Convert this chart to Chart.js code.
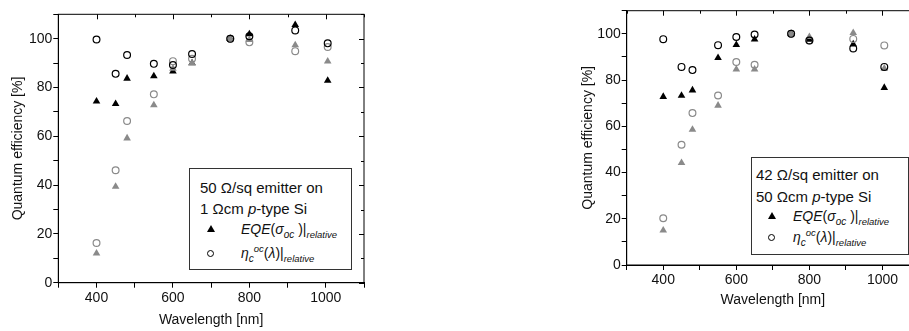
<!DOCTYPE html>
<html>
<head>
<meta charset="utf-8">
<script src="https://cdn.jsdelivr.net/npm/chart.js@4.4.1/dist/chart.umd.min.js"></script>
<style>
  body { margin: 0; width: 909px; height: 331px; overflow: hidden; position: relative; background: #fff;
         font-family: "Liberation Sans", Arial, sans-serif; color: #111; }
  canvas { position: absolute; top: 0; }
  #c1 { left: 0; }
  #c2 { left: 540px; }
  .box { position: absolute; box-sizing: border-box; border: 1px solid #333; background: #fff; }
  .ln { position: absolute; white-space: nowrap; font-size: 14px; line-height: 16px; }
  .ln.big { font-size: 15px; }
  .ln sub, .ln sup { font-size: 9.5px; font-style: italic; line-height: 0; }
  .ln sub.s { font-size: 10px; }
  .tri { position: absolute; width: 0; height: 0; border-left: 4px solid transparent; border-right: 4px solid transparent;
         border-bottom: 7px solid #000; }
  .cir { position: absolute; width: 7px; height: 7px; box-sizing: border-box; border: 1.2px solid #000; border-radius: 50%; }
</style>
</head>
<body>
<canvas id="c1" width="380" height="331"></canvas>
<canvas id="c2" width="400" height="331"></canvas>

<!-- legenda painel esquerdo -->
<div class="box" style="left:189px; top:168px; width:163px; height:102px;">
  <div class="ln big" style="left:10px; top:11px;">50 &Omega;/sq emitter on</div>
  <div class="ln big" style="left:10px; top:32px;">1 &Omega;cm <i>p</i>-type Si</div>
  <div class="tri" style="left:17px; top:56px;"></div>
  <div class="ln" style="left:51px; top:52px;"><i>EQE</i>(<i>&sigma;</i><sub class="s">oc</sub> )|<sub>relative</sub></div>
  <div class="cir" style="left:17px; top:81px;"></div>
  <div class="ln" style="left:51px; top:76px;"><i>&eta;</i><sub class="s">c</sub><sup class="s">oc</sup>(<i>&lambda;</i>)|<sub>relative</sub></div>
</div>

<!-- legenda painel direito -->
<div class="box" style="left:751px; top:157px; width:158px; height:98px;">
  <div class="ln big" style="left:4px; top:9px;">42 &Omega;/sq emitter on</div>
  <div class="ln big" style="left:4px; top:31px;">50 &Omega;cm <i>p</i>-type Si</div>
  <div class="tri" style="left:16px; top:54px;"></div>
  <div class="ln" style="left:41px; top:50px;"><i>EQE</i>(<i>&sigma;</i><sub class="s">oc</sub> )|<sub>relative</sub></div>
  <div class="cir" style="left:16px; top:76px;"></div>
  <div class="ln" style="left:41px; top:71px;"><i>&eta;</i><sub class="s">c</sub><sup class="s">oc</sup>(<i>&lambda;</i>)|<sub>relative</sub></div>
</div>

<script>
// Dados (comprimento de onda em nm, eficiencia em %)
var wavelengths = [400, 450, 480, 550, 600, 650, 750, 800, 920, 1005];

// 50 Ohm/sq emissor, 1 Ohm.cm p-type
var eqeA      = [74.3, 73.3, 83.7, 84.7, 86.6, 90.0, 100, 101.9, 105.7, 82.8];
var etaA      = [99.7, 85.6, 93.3, 89.7, 89.2, 93.7, 100, 101.0, 103.4, 98.1];
var eqeGreyA  = [12.0, 39.4, 59.2, 72.8, 87.8, 90.0, 100, 99.5, 97.4, 90.7];
var etaGreyA  = [16.3, 46.1, 66.3, 77.2, 90.8, 91.8, 100, 98.5, 94.9, 96.6];

// 42 Ohm/sq emissor, 50 Ohm.cm p-type
var eqeB      = [72.8, 73.3, 75.6, 89.6, 95.2, 97.6, 100, 97.5, 95.5, 76.7];
var etaB      = [97.7, 85.7, 84.3, 95.1, 98.6, 99.7, 100, 97.1, 93.7, 85.7];
var eqeGreyB  = [15.0, 44.2, 58.6, 69.0, 84.6, 84.6, 100, 98.7, 100.4, 85.0];
var etaGreyB  = [20.2, 52.0, 65.7, 73.3, 87.8, 86.6, 100, 97.1, 97.8, 95.0];

var xTickLabels = [400, 600, 800, 1000];
var yTickLabels = [0, 20, 40, 60, 80, 100];

var GREY = '#8a8a8a';

function pts(ys) {
  return wavelengths.map(function(x, i) { return { x: x, y: ys[i] }; });
}

// moldura com ticks para dentro (topo e direita)
var moldura = {
  id: 'moldura',
  afterDraw: function(chart) {
    var a = chart.chartArea, ctx = chart.ctx;
    var xs = chart.scales.x, ys = chart.scales.y;
    ctx.save();
    ctx.strokeStyle = '#000';
    ctx.lineWidth = 1;
    ctx.strokeRect(a.left, a.top, a.right - a.left, a.bottom - a.top);
    ctx.beginPath();
    xs.ticks.forEach(function(t) {
      var px = Math.round(xs.getPixelForValue(t.value)) + 0.5;
      var len = xTickLabels.indexOf(t.value) >= 0 ? 5 : 3;
      ctx.moveTo(px, a.top);
      ctx.lineTo(px, a.top + len);
    });
    ys.ticks.forEach(function(t) {
      var py = Math.round(ys.getPixelForValue(t.value)) + 0.5;
      var len = yTickLabels.indexOf(t.value) >= 0 ? 5 : 3;
      ctx.moveTo(a.right, py);
      ctx.lineTo(a.right - len, py);
    });
    ctx.stroke();
    ctx.restore();
  }
};

function painel(id, eqe, eta, eqeG, etaG, cfg) {
  var ctx = document.getElementById(id).getContext('2d');
  return new Chart(ctx, {
    type: 'scatter',
    data: {
      datasets: [
        { label: 'eta', data: pts(eta), pointStyle: 'circle', pointRadius: 3.4, pointBorderWidth: 1.2,
          borderColor: '#000', backgroundColor: 'rgba(0,0,0,0)', order: 0 },
        { label: 'eta grey', data: pts(etaG), pointStyle: 'circle', pointRadius: 3.4, pointBorderWidth: 1.2,
          borderColor: GREY, backgroundColor: 'rgba(0,0,0,0)', order: 1 },
        { label: 'EQE grey', data: pts(eqeG), pointStyle: 'triangle', pointRadius: 4.4, pointBorderWidth: 0,
          borderColor: GREY, backgroundColor: GREY, order: 2 },
        { label: 'EQE', data: pts(eqe), pointStyle: 'triangle', pointRadius: 4.4, pointBorderWidth: 0,
          borderColor: '#000', backgroundColor: '#000', order: 3 }
      ]
    },
    options: {
      responsive: false,
      animation: false,
      events: [],
      layout: { padding: { top: cfg.top, right: cfg.right, left: 0, bottom: 0 } },
      plugins: { legend: { display: false }, tooltip: { enabled: false } },
      scales: {
        x: {
          type: 'linear', min: 300, max: 1100,
          afterFit: function(s) { s.height = cfg.xh; },
          border: { color: '#000', width: 1 },
          grid: { drawOnChartArea: false, tickLength: 5, color: '#000' },
          ticks: {
            stepSize: 100, padding: 2, color: '#111', maxRotation: 0, autoSkip: false,
            font: { family: 'Liberation Sans', size: 14 },
            callback: function(v) { return xTickLabels.indexOf(v) >= 0 ? v : ''; }
          },
          title: { display: true, text: 'Wavelength [nm]', color: '#111',
                   font: { family: 'Liberation Sans', size: 14 }, padding: { top: 0, bottom: cfg.xtp } }
        },
        y: {
          min: 0, max: 110,
          afterFit: function(s) { s.width = cfg.yw; },
          border: { color: '#000', width: 1 },
          grid: { drawOnChartArea: false, tickLength: 5, color: '#000' },
          ticks: {
            stepSize: 10, padding: 1, color: '#111', autoSkip: false,
            font: { family: 'Liberation Sans', size: 14 },
            callback: function(v) { return yTickLabels.indexOf(v) >= 0 ? v : ''; }
          },
          title: { display: true, text: 'Quantum efficiency [%]', color: '#111',
                   font: { family: 'Liberation Sans', size: 14 }, padding: { top: cfg.ytp, bottom: 0 } }
        }
      }
    },
    plugins: [moldura]
  });
}

painel('c1', eqeA, etaA, eqeGreyA, etaGreyA, { top: 14.3, right: 16, yw: 58.3, xh: 48.3, xtp: 2.6, ytp: 9.6 });
painel('c2', eqeB, etaB, eqeGreyB, etaGreyB, { top: 10.7, right: 21, yw: 86.7, xh: 66, xtp: 22.6, ytp: 40 });
</script>
</body>
</html>
